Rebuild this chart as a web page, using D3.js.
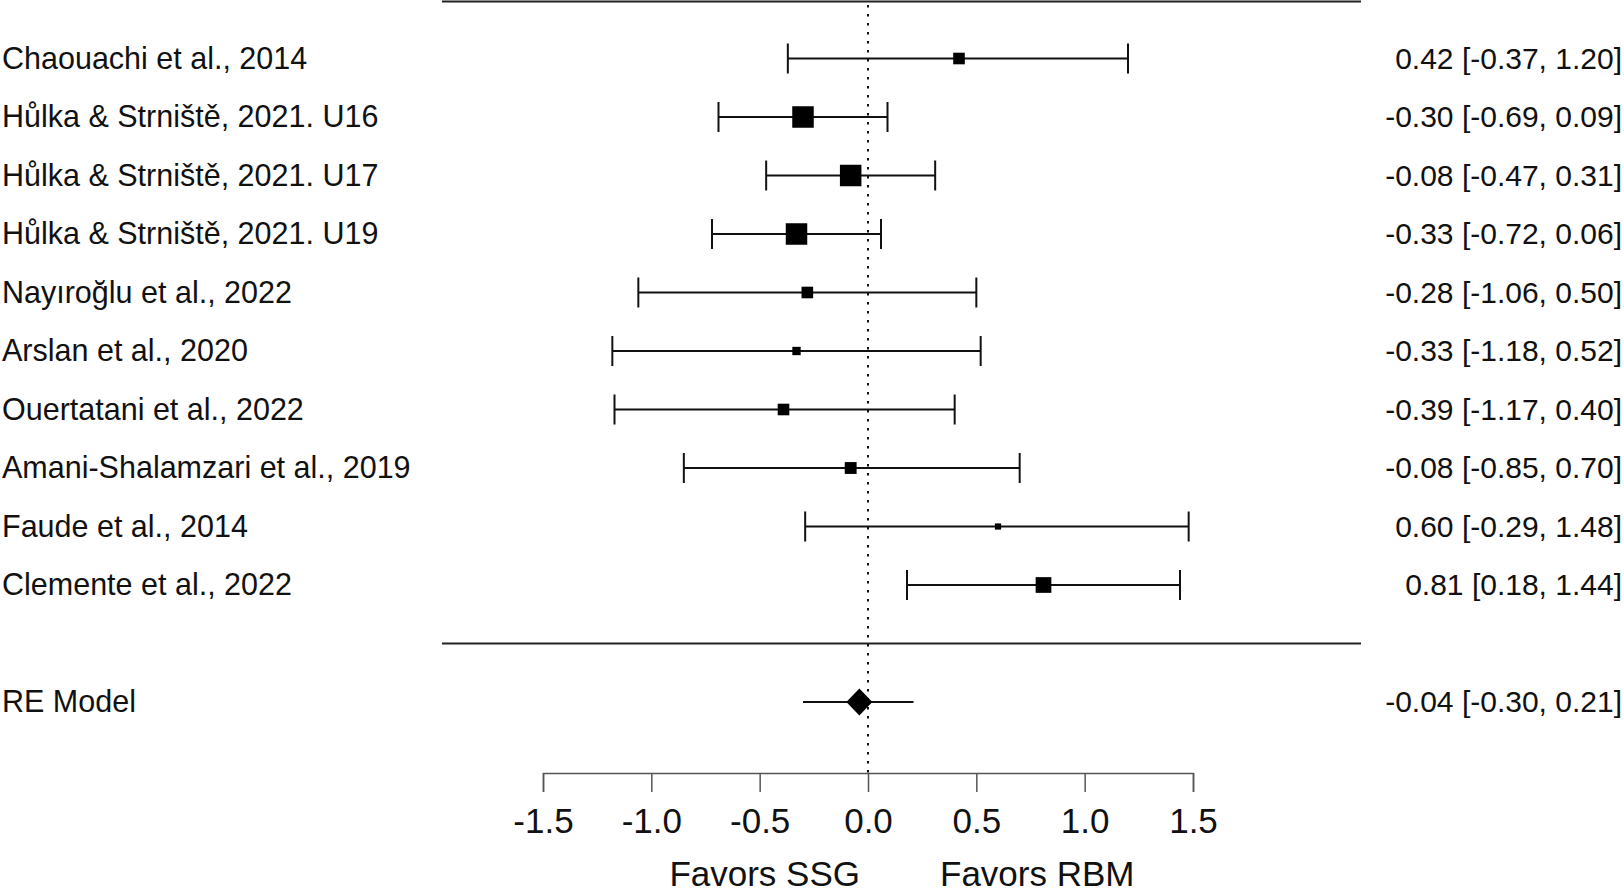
<!DOCTYPE html>
<html>
<head>
<meta charset="utf-8">
<script src="https://cdn.jsdelivr.net/npm/d3@7"></script>
<style>
  body { margin: 0; background: #fff; }
  svg text { font-family: "Liberation Sans", Arial, Helvetica, sans-serif; fill: #111; }
</style>
</head>
<body>
<svg width="1624" height="896"></svg>
<script>
// study data
const studies = [
  "Chaouachi et al., 2014",
  "Hůlka & Strniště, 2021. U16",
  "Hůlka & Strniště, 2021. U17",
  "Hůlka & Strniště, 2021. U19",
  "Nayıroğlu et al., 2022",
  "Arslan et al., 2020",
  "Ouertatani et al., 2022",
  "Amani-Shalamzari et al., 2019",
  "Faude et al., 2014",
  "Clemente et al., 2022"
];
const estimates = [0.42, -0.30, -0.08, -0.33, -0.28, -0.33, -0.39, -0.08, 0.60, 0.81];
const lower     = [-0.37, -0.69, -0.47, -0.72, -1.06, -1.18, -1.17, -0.85, -0.29, 0.18];
const upper     = [1.20, 0.09, 0.31, 0.06, 0.50, 0.52, 0.40, 0.70, 1.48, 1.44];
const weights   = [8.2, 15.2, 15.2, 15.2, 8.2, 5.9, 8.2, 8.4, 4.4, 11.1];

const summaryLabel = "RE Model";
const summaryEst = -0.04, summaryLo = -0.30, summaryHi = 0.21;

const xTicks = [-1.5, -1.0, -0.5, 0.0, 0.5, 1.0, 1.5];
const xLabelLeft = "Favors SSG", xLabelRight = "Favors RBM";

const svg = d3.select("svg");
const k = studies.length;
const data = studies.map((s, i) => ({
  label: s, est: estimates[i], lo: lower[i], hi: upper[i], w: weights[i], row: k - i
}));

const x = d3.scaleLinear().domain([-1.5, 1.5]).range([543, 1193]);
// metafor-style rows: k..1 studies, 0 separator, -1 summary, k+1 top line
const y = d3.scaleLinear().domain([k + 1, -1]).range([0, 702]);
const side = d3.scaleLinear().domain([0, d3.max(weights)]).range([0, 21.5]);
const f2 = v => v.toFixed(2);
const axisY = 773;

// horizontal rules
[k + 1, 0].forEach(r => {
  svg.append("line")
    .attr("x1", 442).attr("x2", 1361)
    .attr("y1", Math.max(y(r), 1.5)).attr("y2", Math.max(y(r), 1.5))
    .attr("stroke", "#222").attr("stroke-width", 2);
});

// reference line at 0
svg.append("line")
  .attr("x1", x(0)).attr("x2", x(0))
  .attr("y1", y(k + 1) + 5).attr("y2", axisY)
  .attr("stroke", "#111").attr("stroke-width", 2)
  .attr("stroke-dasharray", "2.5,6.5");

const rows = svg.selectAll(".study")
  .data(data)
  .join("g")
    .attr("class", "study")
    .attr("transform", d => `translate(0,${y(d.row)})`);

rows.append("line")
  .attr("x1", d => x(d.lo)).attr("x2", d => x(d.hi))
  .attr("stroke", "#111").attr("stroke-width", 2);

rows.selectAll(".whisker")
  .data(d => [d.lo, d.hi])
  .join("line")
    .attr("class", "whisker")
    .attr("x1", v => x(v)).attr("x2", v => x(v))
    .attr("y1", -15).attr("y2", 15)
    .attr("stroke", "#111").attr("stroke-width", 2);

rows.append("rect")
  .attr("x", d => x(d.est) - side(d.w) / 2)
  .attr("y", d => -side(d.w) / 2)
  .attr("width", d => side(d.w))
  .attr("height", d => side(d.w))
  .attr("fill", "#000");

rows.append("text")
  .attr("x", 2).attr("dy", "0.34em")
  .style("font-size", "30.5px")
  .text(d => d.label);

rows.append("text")
  .attr("x", 1622).attr("dy", "0.34em")
  .attr("text-anchor", "end")
  .style("font-size", "30px")
  .text(d => `${f2(d.est)} [${f2(d.lo)}, ${f2(d.hi)}]`);

// summary row
const sy = y(-1);
const sum = svg.append("g").attr("transform", `translate(0,${sy})`);
sum.append("line")
  .attr("x1", x(summaryLo)).attr("x2", x(summaryHi))
  .attr("stroke", "#111").attr("stroke-width", 2);
const cx = x(summaryEst);
sum.append("path")
  .attr("d", `M${cx - 13},0 L${cx},-13.5 L${cx + 13},0 L${cx},13.5 Z`)
  .attr("fill", "#000");
sum.append("text")
  .attr("x", 2).attr("dy", "0.34em")
  .style("font-size", "30.5px")
  .text(summaryLabel);
sum.append("text")
  .attr("x", 1622).attr("dy", "0.34em")
  .attr("text-anchor", "end")
  .style("font-size", "30px")
  .text(`${f2(summaryEst)} [${f2(summaryLo)}, ${f2(summaryHi)}]`);

// x axis
const axis = svg.append("g")
  .attr("transform", `translate(0,${axisY})`)
  .call(d3.axisBottom(x).tickValues(xTicks).tickSize(19).tickSizeOuter(19)
    .tickPadding(16).tickFormat(d => d.toFixed(1)));
axis.select(".domain").attr("stroke", "#555").attr("stroke-width", 1.5);
axis.selectAll(".tick line").attr("stroke", "#555").attr("stroke-width", 1.5);
axis.selectAll(".tick text")
  .style("font-size", "35px")
  .attr("fill", "#111");

svg.append("text")
  .attr("x", x(0) - 8).attr("y", 886)
  .attr("text-anchor", "end")
  .style("font-size", "35px")
  .text(xLabelLeft);
svg.append("text")
  .attr("x", x(0) + 72).attr("y", 886)
  .style("font-size", "35px")
  .text(xLabelRight);
</script>
</body>
</html>
